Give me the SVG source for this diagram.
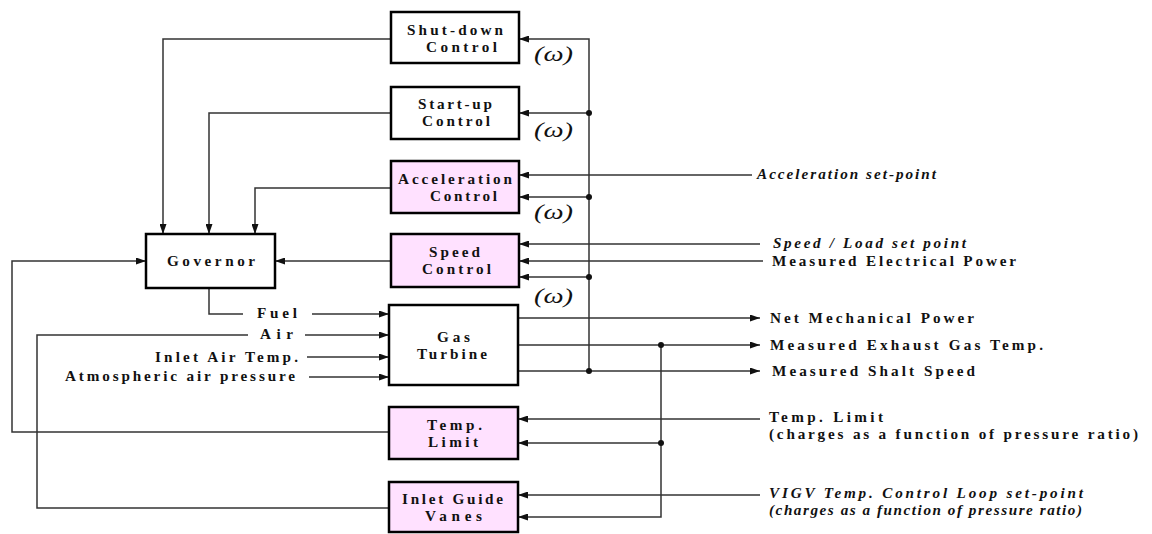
<svg xmlns="http://www.w3.org/2000/svg" width="1152" height="534" viewBox="0 0 1152 534">
<style>
.box{stroke:#000;stroke-width:2.5;fill:#fff}
.pink{fill:#FFE1FF}
.ln{stroke:#333;stroke-width:1.5;fill:none}
.t{font-family:"Liberation Serif","Times New Roman",serif;font-weight:bold;font-size:15.2px;fill:#111}
.i{font-style:italic}
.w{font-family:"Liberation Serif","Times New Roman",serif;font-style:italic;font-size:22px;fill:#111}
.dot{fill:#111}
</style>
<defs>
<marker id="ah" markerUnits="userSpaceOnUse" markerWidth="10" markerHeight="7" refX="10" refY="3.5" orient="auto">
<path d="M0,0 L10,3.5 L0,7 z" fill="#111"/>
</marker>
</defs>
<rect width="1152" height="534" fill="#fff"/>
<g id="connectors">
<path class="ln" d="M391,39 H163 V234" marker-end="url(#ah)"/>
<path class="ln" d="M391,113 H209 V234" marker-end="url(#ah)"/>
<path class="ln" d="M391,188 H255 V234" marker-end="url(#ah)"/>
<path class="ln" d="M391,261 H275" marker-end="url(#ah)"/>
<path class="ln" d="M389,432 H12 V261 H146" marker-end="url(#ah)"/>
<path class="ln" d="M209,288 V314 H243"/>
<path class="ln" d="M312,314 H389" marker-end="url(#ah)"/>
<path class="ln" d="M389,508 H37 V335 H248"/>
<path class="ln" d="M305,335 H389" marker-end="url(#ah)"/>
<path class="ln" d="M307,357 H389" marker-end="url(#ah)"/>
<path class="ln" d="M309,377 H389" marker-end="url(#ah)"/>
<path class="ln" d="M589,371 V39 H519" marker-end="url(#ah)"/>
<path class="ln" d="M589,113 H519" marker-end="url(#ah)"/>
<path class="ln" d="M752,175 H519" marker-end="url(#ah)"/>
<path class="ln" d="M589,197 H519" marker-end="url(#ah)"/>
<path class="ln" d="M760,244 H519" marker-end="url(#ah)"/>
<path class="ln" d="M763,261 H519" marker-end="url(#ah)"/>
<path class="ln" d="M589,277 H519" marker-end="url(#ah)"/>
<path class="ln" d="M518,318 H760" marker-end="url(#ah)"/>
<path class="ln" d="M518,345 H760" marker-end="url(#ah)"/>
<path class="ln" d="M518,371 H760" marker-end="url(#ah)"/>
<path class="ln" d="M661,345 V517 H518" marker-end="url(#ah)"/>
<path class="ln" d="M760,419 H518" marker-end="url(#ah)"/>
<path class="ln" d="M661,443 H518" marker-end="url(#ah)"/>
<path class="ln" d="M760,495 H518" marker-end="url(#ah)"/>
<circle class="dot" cx="589" cy="113" r="3"/>
<circle class="dot" cx="589" cy="197" r="3"/>
<circle class="dot" cx="589" cy="277" r="3"/>
<circle class="dot" cx="589" cy="371" r="3"/>
<circle class="dot" cx="661" cy="345" r="3"/>
<circle class="dot" cx="661" cy="443" r="3"/>
</g>
<g id="shutdown">
<rect class="box" x="391" y="12" width="128" height="51"/>
<text class="t" x="407" y="35" textLength="96" lengthAdjust="spacing">Shut-down</text>
<text class="t" x="426" y="52" textLength="71" lengthAdjust="spacing">Control</text>
</g>
<g id="startup">
<rect class="box" x="391" y="87" width="128" height="52"/>
<text class="t" x="418" y="109" textLength="74" lengthAdjust="spacing">Start-up</text>
<text class="t" x="422" y="126" textLength="68" lengthAdjust="spacing">Control</text>
</g>
<g id="acceleration">
<rect class="box pink" x="391" y="161" width="128" height="52"/>
<text class="t" x="398" y="184" textLength="114" lengthAdjust="spacing">Acceleration</text>
<text class="t" x="430" y="201" textLength="67" lengthAdjust="spacing">Control</text>
</g>
<g id="speed">
<rect class="box pink" x="391" y="234" width="128" height="53"/>
<text class="t" x="429" y="257" textLength="51" lengthAdjust="spacing">Speed</text>
<text class="t" x="422" y="274" textLength="69" lengthAdjust="spacing">Control</text>
</g>
<g id="governor">
<rect class="box" x="146" y="234" width="129" height="54"/>
<text class="t" x="167" y="266" textLength="88" lengthAdjust="spacing">Governor</text>
</g>
<g id="gasturbine">
<rect class="box" x="389" y="305" width="129" height="80"/>
<text class="t" x="437" y="342" textLength="33" lengthAdjust="spacing">Gas</text>
<text class="t" x="417" y="359" textLength="70" lengthAdjust="spacing">Turbine</text>
</g>
<g id="templimit">
<rect class="box pink" x="389" y="407" width="129" height="52"/>
<text class="t" x="427" y="430" textLength="55" lengthAdjust="spacing">Temp.</text>
<text class="t" x="428" y="447" textLength="50" lengthAdjust="spacing">Limit</text>
</g>
<g id="igv">
<rect class="box pink" x="389" y="482" width="129" height="50"/>
<text class="t" x="402" y="504" textLength="101" lengthAdjust="spacing">Inlet Guide</text>
<text class="t" x="425" y="521" textLength="57" lengthAdjust="spacing">Vanes</text>
</g>
<g id="labels">
<text class="w" x="534" y="61" textLength="39" lengthAdjust="spacingAndGlyphs">(ω)</text>
<text class="w" x="534" y="137" textLength="39" lengthAdjust="spacingAndGlyphs">(ω)</text>
<text class="w" x="534" y="219" textLength="39" lengthAdjust="spacingAndGlyphs">(ω)</text>
<text class="w" x="534" y="303" textLength="39" lengthAdjust="spacingAndGlyphs">(ω)</text>
<text class="t" x="257" y="318" textLength="40" lengthAdjust="spacing">Fuel</text>
<text class="t" x="260" y="339" textLength="33" lengthAdjust="spacing">Air</text>
<text class="t" x="155" y="362" textLength="143" lengthAdjust="spacing">Inlet Air Temp.</text>
<text class="t" x="65" y="381" textLength="230" lengthAdjust="spacing">Atmospheric air pressure</text>
<text class="t i" x="757" y="179" textLength="179" lengthAdjust="spacing">Acceleration set-point</text>
<text class="t i" x="773" y="248" textLength="193" lengthAdjust="spacing">Speed / Load set point</text>
<text class="t" x="772" y="266" textLength="244" lengthAdjust="spacing">Measured Electrical Power</text>
<text class="t" x="770" y="323" textLength="204" lengthAdjust="spacing">Net Mechanical Power</text>
<text class="t" x="770" y="350" textLength="273" lengthAdjust="spacing">Measured Exhaust Gas Temp.</text>
<text class="t" x="772" y="376" textLength="203" lengthAdjust="spacing">Measured Shalt Speed</text>
<text class="t" x="769" y="422" textLength="114" lengthAdjust="spacing">Temp. Limit</text>
<text class="t" x="769" y="439" textLength="369" lengthAdjust="spacing">(charges as a function of pressure ratio)</text>
<text class="t i" x="769" y="498" textLength="314" lengthAdjust="spacing">VIGV Temp. Control Loop set-point</text>
<text class="t i" x="769" y="515" textLength="313" lengthAdjust="spacing">(charges as a function of pressure ratio)</text>
</g>
</svg>
